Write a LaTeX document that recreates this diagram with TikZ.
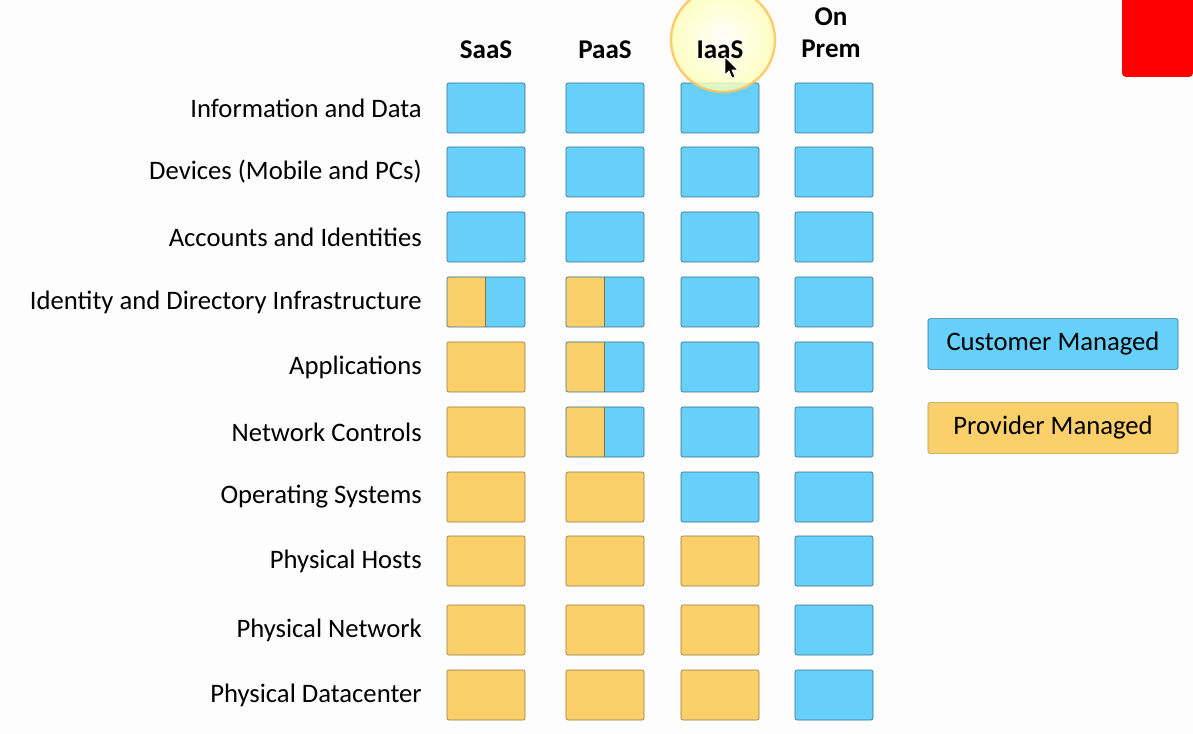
\documentclass[tikz,border=0pt]{standalone}
\usepackage{fontspec}
\setmainfont{Carlito}
\definecolor{cblue}{RGB}{102,208,250}
\definecolor{porange}{RGB}{251,208,106}
\definecolor{paper}{RGB}{252,253,252}
\tikzset{
  cell/.style={minimum width=58.5pt, minimum height=37.5pt, inner sep=0pt, rounded corners=1.5pt, line width=.5pt},
  cust/.style={cell, fill=cblue, draw=cblue!55!black},
  prov/.style={cell, fill=porange, draw=porange!60!black},
  split/.style={cust, path picture={
      \fill[porange] (path picture bounding box.south west) rectangle ([xshift=-.5pt]path picture bounding box.north);
      \draw[porange!55!black, line width=.5pt] ([xshift=-.5pt]path picture bounding box.south) -- ([xshift=-.5pt]path picture bounding box.north);}},
  legend/.style={minimum width=187.5pt, minimum height=38pt, inner sep=0pt, rounded corners=1.5pt, line width=.4pt, font=\fontsize{20}{24}\selectfont},
  rowlabel/.style={anchor=east, inner sep=0pt, font=\fontsize{20}{24}\selectfont},
  colhead/.style={font=\bfseries\fontsize{20.3}{24}\selectfont, align=center}
}
\begin{document}
\begin{tikzpicture}[x=.75pt, y=-.75pt]
\useasboundingbox (0,0) rectangle (1193,734);
\fill[paper] (0,0) rectangle (1193,734);
% rows: number / y / label / SaaS, PaaS, IaaS, On Prem
\foreach \r/\y/\txt/\a/\b/\c/\d in {
  1/108/Information and Data/cust/cust/cust/cust,
  2/172/Devices (Mobile and PCs)/cust/cust/cust/cust,
  3/237/Accounts and Identities/cust/cust/cust/cust,
  4/302/Identity and Directory Infrastructure/split/split/cust/cust,
  5/367/Applications/prov/split/cust/cust,
  6/432/Network Controls/prov/split/cust/cust,
  7/497/Operating Systems/prov/prov/cust/cust,
  8/561/Physical Hosts/prov/prov/prov/cust,
  9/630/Physical Network/prov/prov/prov/cust,
  10/695/Physical Datacenter/prov/prov/prov/cust}{
  \node[rowlabel] (lab\r) at (422,\y) {\txt};
  \node[\a] (saas\r) at (486,\y) {};
  \node[\b] (paas\r) at (605,\y) {};
  \node[\c] (iaas\r) at (720,\y) {};
  \node[\d] (prem\r) at (834,\y) {};
}
% legend
\node[legend, fill=cblue, draw=cblue!55!black] (custkey) at (1053,344) {Customer Managed};
\node[legend, fill=porange, draw=porange!70!black] (provkey) at (1053,428) {Provider Managed};
% red block top right
\fill[red] (1193,0) -- (1122,0) [rounded corners=3pt] -- (1122,77) -- (1193,77) [sharp corners] -- cycle;
% highlight round the pointer
\shade[inner color=white, outer color=yellow!30, opacity=.8] (723,40) circle (39pt);
\draw[color=porange!85!orange, line width=1.8pt, opacity=.85] (723,40) circle (39pt);
% headers
\node[colhead] (saas) at (486,50) {SaaS};
\node[colhead] (paas) at (605,50) {PaaS};
\node[colhead] (iaas) at (720,50) {IaaS};
\node[colhead] (prem) at (831,33) {On\\Prem};
% pointer
\filldraw[fill=black, draw=white, line width=.6pt] (725,57) -- (725,75) -- (729,71) -- (732,78) -- (735,77) -- (732,70) -- (738,70) -- cycle;
\end{tikzpicture}
\end{document}
